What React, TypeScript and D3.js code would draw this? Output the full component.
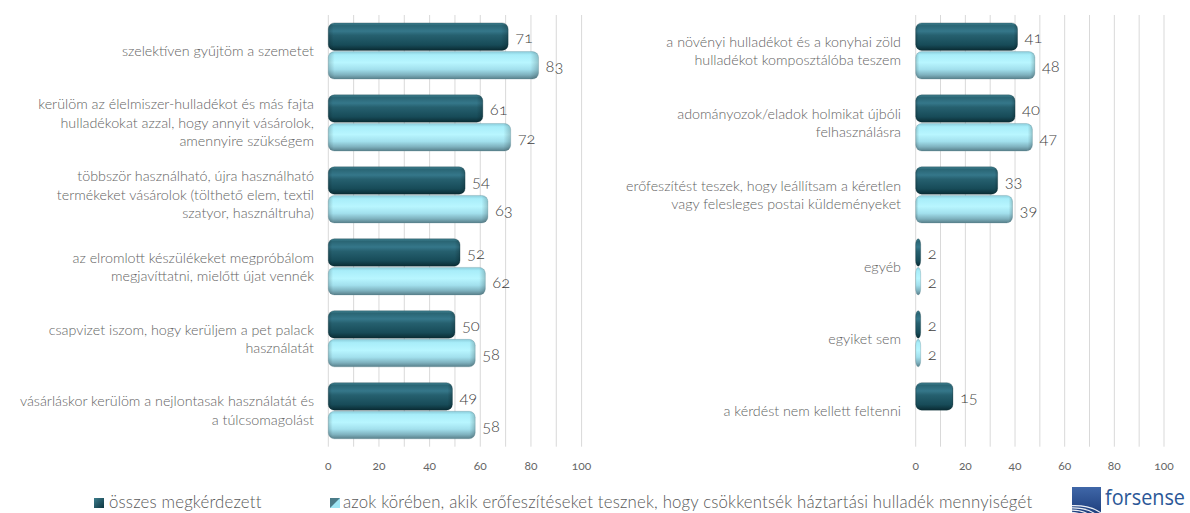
import React from 'react';
import * as d3 from 'd3';

const leftCategories = [
  'szelektíven gyűjtöm a szemetet',
  'kerülöm az élelmiszer-hulladékot és más fajta\nhulladékokat azzal, hogy annyit vásárolok,\namennyire szükségem',
  'többször használható, újra használható\ntermékeket vásárolok (tölthető elem, textil\nszatyor, használtruha)',
  'az elromlott készülékeket megpróbálom\nmegjavíttatni, mielőtt újat vennék',
  'csapvizet iszom, hogy kerüljem a pet palack\nhasználatát',
  'vásárláskor kerülöm a nejlontasak használatát és\na túlcsomagolást',
];
const leftAll = [71, 61, 54, 52, 50, 49];
const leftEffort = [83, 72, 63, 62, 58, 58];

const rightCategories = [
  'a növényi hulladékot és a konyhai zöld\nhulladékot komposztálóba teszem',
  'adományozok/eladok holmikat újbóli\nfelhasználásra',
  'erőfeszítést teszek, hogy leállítsam a kéretlen\nvagy felesleges postai küldeményeket',
  'egyéb',
  'egyiket sem',
  'a kérdést nem kellett feltenni',
];
const rightAll = [41, 40, 33, 2, 2, 15];
const rightEffort: (number | null)[] = [48, 47, 39, 2, 2, null];

const xTicks = [0, 20, 40, 60, 80, 100];
const gridValues = [0, 10, 20, 30, 40, 50, 60, 70, 80, 90, 100];
const seriesKeys = ['all', 'effort'];
const seriesNames = [
  'összes megkérdezett',
  'azok körében, akik erőfeszítéseket tesznek, hogy csökkentsék háztartási hulladék mennyiségét',
];

const FONT = 'Lato, "Open Sans", sans-serif';
const TOP = 15;
const BOTTOM = 446.7;

function Bar({ x, y, w, h, kind }: { x: number; y: number; w: number; h: number; kind: string }) {
  const r = Math.min(6, w / 2);
  return (
    <g>
      <rect x={x} y={y} width={w} height={h} rx={r} ry={Math.min(6, h / 2)}
        fill={kind === 'all' ? 'url(#gDark)' : 'url(#gLight)'}
        stroke={kind === 'all' ? '#0c2e37' : '#5a8590'} strokeOpacity={0.35} strokeWidth={0.8} />
      <rect x={x} y={y} width={w} height={h} rx={r} ry={Math.min(6, h / 2)} fill="url(#gEnds)" />
    </g>
  );
}

function Panel({ categories, all, effort, x0, x1, labelRight }: any) {
  const x = d3.scaleLinear().domain([0, 100]).range([x0, x1]);
  const y = d3.scaleBand<string>().domain(categories).range([TOP, BOTTOM]).paddingInner(0.22).paddingOuter(0.11);
  const sub = d3.scaleBand<string>().domain(seriesKeys).range([0, y.bandwidth()]).paddingInner(0.04);
  const lineH = 18.5;
  return (
    <g>
      {gridValues.map((g) => (
        <line key={g} x1={x(g)} x2={x(g)} y1={TOP} y2={BOTTOM} stroke="#d9d9d9" strokeWidth={1} />
      ))}
      {xTicks.map((t) => (
        <text key={t} x={x(t)} y={466} dy="0.35em" textAnchor="middle" fontSize={12} fill="#666666"
          style={{ fontVariantNumeric: 'oldstyle-nums' }} fontFamily={FONT}>{t}</text>
      ))}
      {categories.map((c: string) => {
        const lines = c.split('\n');
        const cy = (y(c) as number) + y.bandwidth() / 2;
        return (
          <text key={c} textAnchor="end" fontSize={14.3} fill="#636363" fontFamily={FONT} fontWeight={300}>
            {lines.map((l, j) => (
              <tspan key={j} x={labelRight} y={cy + (j - (lines.length - 1) / 2) * lineH} dy="0.35em">{l}</tspan>
            ))}
          </text>
        );
      })}
      {categories.map((c: string, i: number) => {
        const vals = [all[i], effort[i]];
        return (
          <g key={c}>
            {vals.map((v: number | null, k: number) => {
              if (v === null || v === undefined) return null;
              const key = seriesKeys[k];
              const by = (y(c) as number) + (sub(key) as number);
              const bh = sub.bandwidth();
              return (
                <g key={key}>
                  <Bar x={x(0)} y={by} w={x(v) - x(0)} h={bh} kind={key} />
                  <text x={x(v) + 7} y={by + bh / 2 + 1} dy="0.35em" fontSize={16.5} fill="#404040"
                    fontWeight={300}
                    style={{ fontVariantNumeric: 'oldstyle-nums' }} fontFamily={FONT}>{v}</text>
                </g>
              );
            })}
          </g>
        );
      })}
    </g>
  );
}

export default function App() {
  return (
    <svg width={1190} height={513} style={{ position: 'absolute', left: 0, top: 0, display: 'block', background: '#fff' }}>
      <defs>
        <linearGradient id="gDark" x1="0" y1="0" x2="0" y2="1">
          <stop offset="0" stopColor="#3f7f8e" />
          <stop offset="0.1" stopColor="#2a6675" />
          <stop offset="0.3" stopColor="#35778a" />
          <stop offset="0.45" stopColor="#26606f" />
          <stop offset="0.8" stopColor="#174b58" />
          <stop offset="1" stopColor="#0a2b33" />
        </linearGradient>
        <linearGradient id="gLight" x1="0" y1="0" x2="0" y2="1">
          <stop offset="0" stopColor="#8bcddb" />
          <stop offset="0.12" stopColor="#a8edf9" />
          <stop offset="0.4" stopColor="#b8f6ff" />
          <stop offset="0.65" stopColor="#a2e0ed" />
          <stop offset="0.85" stopColor="#7eb1be" />
          <stop offset="1" stopColor="#587f8a" />
        </linearGradient>
        <linearGradient id="gEnds" x1="0" y1="0" x2="1" y2="0">
          <stop offset="0" stopColor="#000" stopOpacity={0.18} />
          <stop offset="0.03" stopColor="#000" stopOpacity={0} />
          <stop offset="0.96" stopColor="#000" stopOpacity={0} />
          <stop offset="1" stopColor="#000" stopOpacity={0.2} />
        </linearGradient>
        <linearGradient id="gLogo" x1="0" y1="0" x2="0" y2="1">
          <stop offset="0" stopColor="#3f67a8" />
          <stop offset="1" stopColor="#1f3f7e" />
        </linearGradient>
        <linearGradient id="gLegDark" x1="0" y1="0" x2="1" y2="1">
          <stop offset="0" stopColor="#3d7d8c" />
          <stop offset="1" stopColor="#0d3540" />
        </linearGradient>
        <clipPath id="logoClip">
          <rect x={1072} y={487} width={29} height={26} />
        </clipPath>
      </defs>

      <Panel categories={leftCategories} all={leftAll} effort={leftEffort} x0={328.3} x1={581.6} labelRight={314} />
      <Panel categories={rightCategories} all={rightAll} effort={rightEffort} x0={915.7} x1={1164} labelRight={901} />

      {/* legend */}
      <g fontFamily={FONT} fontSize={16.8} fill="#595959" fontWeight={300} letterSpacing={0.17}>
        <rect x={94} y={498} width={10} height={10} fill="url(#gLegDark)" />
        <text x={109} y={502.5} dy="0.35em">{seriesNames[0]}</text>
        <rect x={330} y={498} width={10} height={10} fill="#4b7b88" />
        <path d="M330,508 L340,498 L340,508 Z" fill="#9fe6f5" />
        <text x={343} y={502.5} dy="0.35em">{seriesNames[1]}</text>
      </g>

      {/* logo */}
      <g>
        <rect x={1072} y={487} width={29} height={26} fill="url(#gLogo)" />
        <g clipPath="url(#logoClip)" fill="none" stroke="#fff" strokeWidth={1.2} strokeOpacity={0.9}>
          {[6, 10, 14, 18, 22].map((r) => (
            <path key={r} d={`M${1068 - r},${518} A${r * 1.6},${r} 0 0 1 ${1068 + r * 1.6},${518}`} transform={`translate(0,${-r * 0.15})`} />
          ))}
        </g>
        <text x={1105} y={505} fontFamily='"Open Sans", sans-serif' fontSize={21} fill="#2b5797"
          textLength={80} lengthAdjust="spacingAndGlyphs">forsense</text>
      </g>
    </svg>
  );
}
